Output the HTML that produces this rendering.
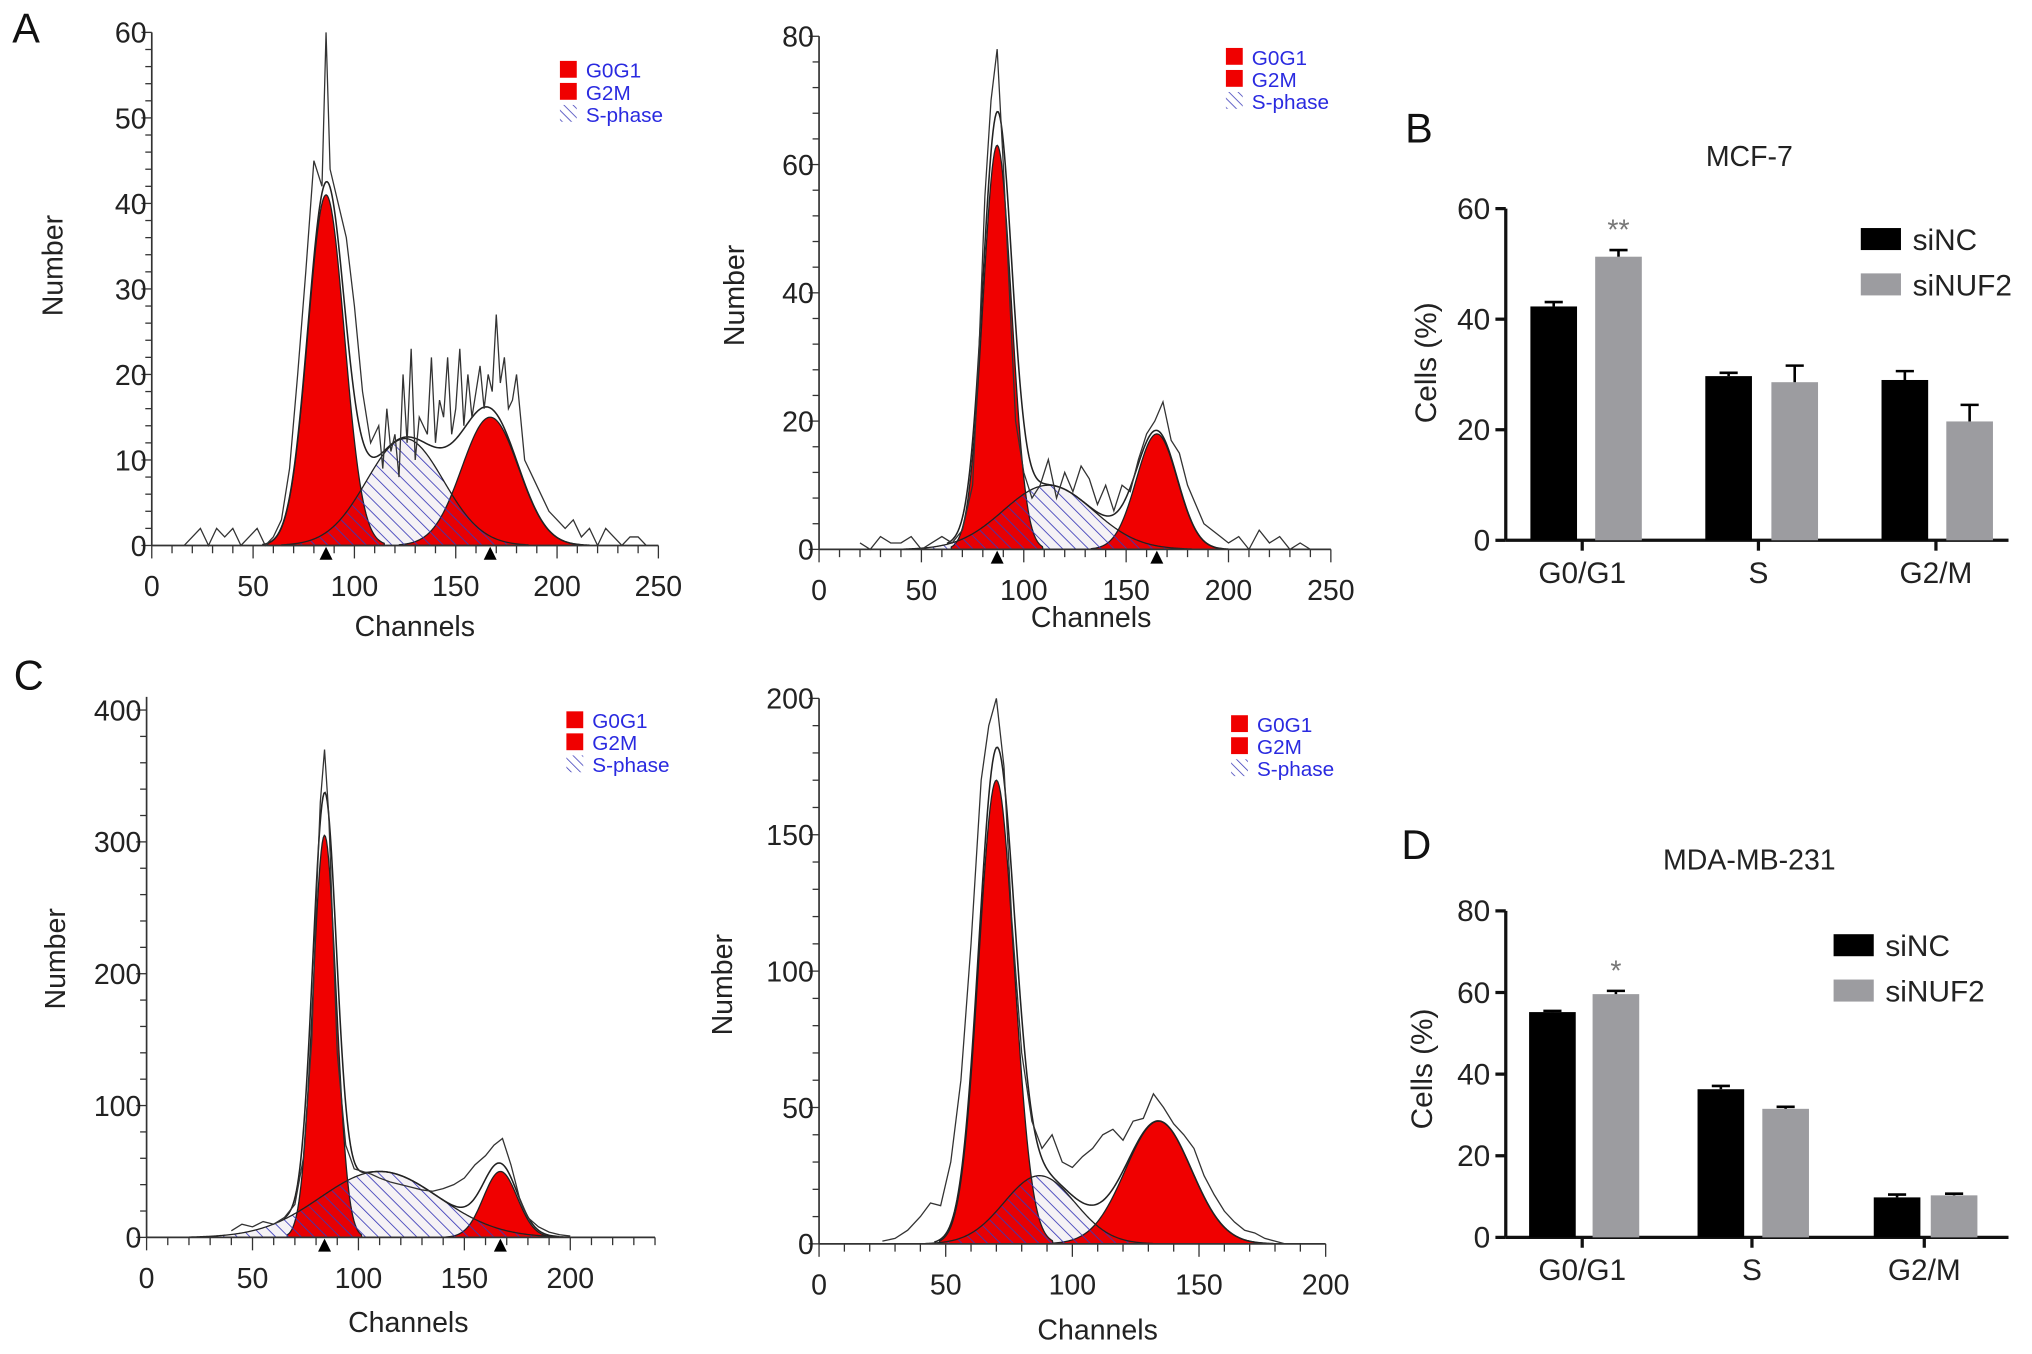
<!DOCTYPE html>
<html><head><meta charset="utf-8"><style>
html,body{margin:0;padding:0;background:#fff;}
svg{display:block;font-family:"Liberation Sans",Arial,sans-serif;}
</style></head><body>
<svg id="fig" width="2032" height="1354" viewBox="0 0 1568 1045" xmlns="http://www.w3.org/2000/svg">
<defs>
<pattern id="hatch" patternUnits="userSpaceOnUse" width="7" height="7" patternTransform="rotate(-45)">
<rect width="7" height="7" fill="rgba(60,0,60,0.05)"/>
<line x1="0" y1="0" x2="0" y2="7" stroke="#3a3ab8" stroke-width="1.3"/>
</pattern>
<pattern id="hatchL" patternUnits="userSpaceOnUse" width="5" height="5" patternTransform="rotate(-45)">
<line x1="0" y1="0" x2="0" y2="5" stroke="#3a3ab8" stroke-width="1.2"/>
</pattern>
</defs>
<g id="root"></g>
</svg>
<script>
// ---- Histogram data (channels, counts) ----
const a1Channels=[16,20,24,28,32,36,40,44,48,52,56,60,64,68,72,76,80,84,86,88,92,96,100,104,108,112,114,116,118,120,122,124,126,128,130,132,134,136,138,140,142,144,146,148,150,152,154,156,158,160,162,164,166,168,170,172,174,176,178,180,184,188,192,196,200,204,208,212,216,220,224,228,232,236,240,244];
const a1Counts=[0,1,2,0,2,1,2,0,1,2,0,1,3,9,20,32,45,42,60,44,40,36,28,18,12,14,9,16,11,13,8,20,12,23,10,15,14,13,22,12,17,15,22,13,16,23,14,20,15,18,21,16,20,18,27,19,22,16,17,20,10,8,6,4,3,2,3,1,2,0,2,1,0,1,1,0];
const a1Peaks=[41,15]; const a1Means=[86,167]; const a1Sds=[9,14];
const a1S=[12.5,125,19];

const a2Channels=[20,25,30,35,40,45,50,55,60,65,70,75,78,81,84,87,90,93,96,100,104,108,112,116,120,124,128,132,136,140,144,148,152,156,160,164,168,172,176,180,184,188,192,196,200,205,210,215,220,225,230,235,240];
const a2Counts=[1,0,2,1,1,2,0,1,2,1,3,10,30,55,70,78,60,40,20,12,8,10,14,8,12,9,13,11,7,10,6,10,9,14,18,20,23,17,15,10,7,4,3,2,1,2,0,3,1,2,0,1,0];
const a2Peaks=[63,18]; const a2Means=[87,165]; const a2Sds=[7,10];
const a2S=[10,112,22];

const c1Channels=[40,45,50,55,60,65,70,74,78,80,82,84,86,88,90,94,98,102,106,110,115,120,125,130,135,140,145,150,155,160,164,168,172,176,180,185,190,195,200];
const c1Counts=[5,10,8,12,10,15,25,60,150,250,330,370,320,230,140,70,52,50,48,45,42,40,38,36,35,37,40,45,55,62,70,75,55,30,15,8,4,2,1];
const c1Peaks=[305,50]; const c1Means=[84,167]; const c1Sds=[5.5,8];
const c1S=[50,110,28];

const c2Channels=[25,30,35,40,44,48,52,56,60,64,67,70,73,76,80,84,88,92,96,100,104,108,112,116,120,124,128,132,136,140,144,148,152,156,160,164,168,172,176,180,184];
const c2Counts=[1,2,5,10,15,14,30,60,110,170,190,200,175,120,70,45,35,40,30,28,32,35,40,42,38,45,46,55,50,44,40,35,25,18,12,8,5,4,2,1,0];
const c2Peaks=[170,45]; const c2Means=[70,134]; const c2Sds=[7,13];
const c2S=[25,87,14];

// ---- Bar data ----
const barCats=["G0/G1","S","G2/M"];
const mcfNC=[42.3,29.7,29.0]; const mcfNCErr=[0.8,0.6,1.6];
const mcfNUF=[51.3,28.6,21.5]; const mcfNUFErr=[1.2,3.0,3.0];
const mdaNC=[55.2,36.3,9.8]; const mdaNCErr=[0.3,0.8,0.7];
const mdaNUF=[59.6,31.5,10.3]; const mdaNUFErr=[0.8,0.5,0.4];
const mcfYTicks=[0,20,40,60]; const mdaYTicks=[0,20,40,60,80];

const NS="http://www.w3.org/2000/svg";
const root=document.getElementById('root');
function mk(tag,attrs,parent,text){const e=document.createElementNS(NS,tag);for(const k in attrs)e.setAttribute(k,attrs[k]);if(text!==undefined)e.textContent=text;(parent||root).appendChild(e);return e;}
function gauss(h,m,s,x){return h*Math.exp(-0.5*((x-m)/s)**2);}

function hist(o){
  const g=mk('g',{});
  
  
  const X=c=>o.ox+c*o.sx, Y=v=>o.oy-v*o.sy;
  function area(h,m,s,fill,nm){
    let d=`M${X(m-3.2*s)},${Y(0)}`;
    for(let c=m-3.2*s;c<=m+3.2*s;c+=0.5)d+=` L${X(c)},${Y(gauss(h,m,s,c))}`;
    d+=` L${X(m+3.2*s)},${Y(0)} Z`;
    const p=mk('path',{d,fill,stroke:'#222','stroke-width':1},g);
    
    
  }
  area(o.peaks[0],o.means[0],o.sds[0],'#f00000','g0g1-peak');
  area(o.peaks[1],o.means[1],o.sds[1],'#f00000','g2m-peak');
  area(o.S[0],o.S[1],o.S[2],'url(#hatch)','s-phase-area');
  let d='';const lo=o.means[0]-3.5*o.sds[0],hi=o.means[1]+3.5*o.sds[1];
  for(let c=lo;c<=hi;c+=0.5){const v=gauss(o.peaks[0],o.means[0],o.sds[0],c)+gauss(o.peaks[1],o.means[1],o.sds[1],c)+gauss(o.S[0],o.S[1],o.S[2],c);d+=(d?' L':'M')+X(c)+','+Y(v);}
  const env=mk('path',{d,fill:'none',stroke:'#222','stroke-width':1.2},g);
  
  
  d='';o.ch.forEach((c,i)=>{d+=(i?' L':'M')+X(c)+','+Y(o.cnt[i]);});
  const raw=mk('path',{d,fill:'none',stroke:'#333','stroke-width':1},g);
  
  
  mk('line',{x1:o.ox,y1:Y(o.ymax),x2:o.ox,y2:o.oy,stroke:'#333','stroke-width':1.3},g);
  mk('line',{x1:o.ox,y1:o.oy,x2:X(o.xmax),y2:o.oy,stroke:'#333','stroke-width':1.3},g);
  for(let v=0;v<=o.ymax+1e-6;v+=o.yminor){const major=Math.abs(v/o.ystep-Math.round(v/o.ystep))<1e-6;
    mk('line',{x1:o.ox-(major?8:5),y1:Y(v),x2:o.ox,y2:Y(v),stroke:'#333','stroke-width':1},g);
    if(major){const t=mk('text',{x:o.ox-4,y:Y(v)+8,'text-anchor':'end','font-size':22,fill:'#222'},g,String(Math.round(v)));}}
  for(let c=0;c<=o.xmax+1e-6;c+=10){const major=c%50===0;
    mk('line',{x1:X(c),y1:o.oy,x2:X(c),y2:o.oy+(major?10:6),stroke:'#333','stroke-width':1},g);
    if(major&&c<=o.xlabmax){const t=mk('text',{x:X(c),y:o.oy+39,'text-anchor':'middle','font-size':22,fill:'#222'},g,String(c));}}
  if(o.tri){o.means.forEach(m=>{mk('path',{d:`M${X(m)-5},${o.oy+11} L${X(m)+5},${o.oy+11} L${X(m)},${o.oy+1} Z`,fill:'#000'},g);});}
  const xt=mk('text',{x:o.xtx,y:o.oy+o.xty,'text-anchor':'middle','font-size':22,fill:'#222'},g,'Channels');
  
  const yt=mk('text',{x:0,y:0,'text-anchor':'middle','font-size':22,fill:'#222',transform:`translate(${o.ytx},${o.yty}) rotate(-90)`},g,'Number');
  
  const lg=mk('g',{},g);
  [['G0G1',0],['G2M',1],['S-phase',2]].forEach(([lab,i])=>{const y=o.ly+i*17;
    if(i<2)mk('rect',{x:o.lx,y:y-13,width:13,height:13,fill:'#f00000'},lg);else mk('rect',{x:o.lx,y:y-13,width:13,height:13,fill:'url(#hatchL)'},lg);
    const t=mk('text',{x:o.lx+20,y:y,'font-size':16,fill:'#2a2ae0'},lg,lab);});
}

hist({name:'histogram-a-left',ox:117,oy:421,sx:391/250,sy:396/60,xmax:250,xlabmax:250,ymax:60,ystep:10,yminor:2,ch:a1Channels,cnt:a1Counts,peaks:a1Peaks,means:a1Means,sds:a1Sds,S:a1S,tri:true,xtx:320,xty:70,ytx:48,yty:205,lx:432,ly:60});
hist({name:'histogram-a-right',ox:632,oy:424,sx:395/250,sy:396/80,xmax:250,xlabmax:250,ymax:80,ystep:20,yminor:4,ch:a2Channels,cnt:a2Counts,peaks:a2Peaks,means:a2Means,sds:a2Sds,S:a2S,tri:true,xtx:842,xty:60,ytx:574,yty:228,lx:946,ly:50});
hist({name:'histogram-c-left',ox:113,oy:955,sx:327/200,sy:407/400,xmax:240,xlabmax:200,ymax:410,ystep:100,yminor:20,ch:c1Channels,cnt:c1Counts,peaks:c1Peaks,means:c1Means,sds:c1Sds,S:c1S,tri:true,xtx:315,xty:73,ytx:50,yty:740,lx:437,ly:562});
hist({name:'histogram-c-right',ox:632,oy:960,sx:391/200,sy:421/200,xmax:200,xlabmax:200,ymax:200,ystep:50,yminor:10,ch:c2Channels,cnt:c2Counts,peaks:c2Peaks,means:c2Means,sds:c2Sds,S:c2S,tri:false,xtx:847,xty:74,ytx:565,yty:760,lx:950,ly:565});

function bars(o){
  const g=mk('g',{});
  
  
  const Y=v=>o.oy-v*o.sy;
  mk('line',{x1:o.ox,y1:Y(o.ticks[o.ticks.length-1]),x2:o.ox,y2:o.oy,stroke:'#111','stroke-width':2.5},g);
  mk('line',{x1:o.ox,y1:o.oy,x2:1550,y2:o.oy,stroke:'#111','stroke-width':2.5},g);
  o.ticks.forEach(v=>{mk('line',{x1:o.ox-8,y1:Y(v),x2:o.ox,y2:Y(v),stroke:'#111','stroke-width':2.5},g);
    const t=mk('text',{x:o.ox-12,y:Y(v)+8,'text-anchor':'end','font-size':23,fill:'#222'},g,String(v));});
  barCats.forEach((c,i)=>{const cx=o.cx[i];
    mk('line',{x1:cx,y1:o.oy,x2:cx,y2:o.oy+8,stroke:'#111','stroke-width':2.5},g);
    const t=mk('text',{x:cx,y:o.oy+33,'text-anchor':'middle','font-size':23,fill:'#222'},g,c);
    [[o.nc,o.ncErr,'#000',o.bx1[i]],[o.nuf,o.nufErr,'#9c9ca0',o.bx2[i]]].forEach(([vals,errs,col,bx])=>{
      const r=mk('rect',{x:bx,y:Y(vals[i]),width:36,height:vals[i]*o.sy,fill:col},g);
      
      
      const top=Y(vals[i]+errs[i]);
      mk('line',{x1:bx+18,y1:Y(vals[i]),x2:bx+18,y2:top,stroke:'#000','stroke-width':2},g);
      mk('line',{x1:bx+11,y1:top,x2:bx+25,y2:top,stroke:'#000','stroke-width':2},g);});
  });
  const st=mk('text',{x:o.bx2[0]+18,y:Y(o.nuf[0]+o.nufErr[0])-8,'text-anchor':'middle','font-size':22,fill:'#777'},g,o.star);
  
  const tt=mk('text',{x:1350,y:o.ty,'text-anchor':'middle','font-size':22,fill:'#222'},g,o.title);
  
  const yt=mk('text',{x:0,y:0,'text-anchor':'middle','font-size':23,fill:'#222',transform:`translate(${o.ytx},${o.yty}) rotate(-90)`},g,'Cells (%)');
  
  const lg=mk('g',{},g);
  [['siNC','#000'],['siNUF2','#9c9ca0']].forEach(([lab,col],i)=>{const y=o.ly+i*35;
    mk('rect',{x:o.lx,y:y-9,width:31,height:17,fill:col},lg);
    const t=mk('text',{x:o.lx+40,y:y+8,'font-size':23,fill:'#222'},lg,lab);});
}
bars({name:'bar-chart-mcf7',ox:1162,oy:417,sy:256/60,ticks:mcfYTicks,nc:mcfNC,ncErr:mcfNCErr,nuf:mcfNUF,nufErr:mcfNUFErr,cx:[1221,1357,1494],bx1:[1181,1316,1452],bx2:[1231,1367,1502],star:'**',title:'MCF-7',ty:128,ytx:1108,yty:280,lx:1436,ly:185});
bars({name:'bar-chart-mda',ox:1162,oy:955,sy:252/80,ticks:mdaYTicks,nc:mdaNC,ncErr:mdaNCErr,nuf:mdaNUF,nufErr:mdaNUFErr,cx:[1221,1352,1485],bx1:[1180,1310,1446],bx2:[1229,1360,1490],star:'*',title:'MDA-MB-231',ty:671,ytx:1105,yty:825,lx:1415,ly:730});

[['A',20,33],['B',1095,110],['C',22,532],['D',1093,663]].forEach(([l,x,y])=>{
  const t=mk('text',{x,y,'font-size':32,fill:'#111','text-anchor':'middle'},root,l);
  
  
});
</script>
</body></html>
